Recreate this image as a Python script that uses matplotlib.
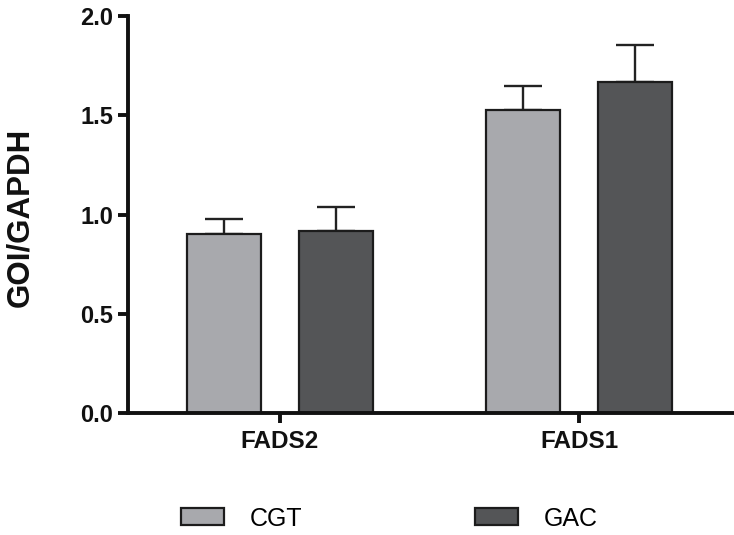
import matplotlib
matplotlib.use("Agg")
import matplotlib.pyplot as plt
import numpy as np

categories = ["FADS2", "FADS1"]
series = ["CGT", "GAC"]
means = {"CGT": [0.90, 1.525], "GAC": [0.917, 1.666]}
errors = {"CGT": [0.078, 0.122], "GAC": [0.12, 0.186]}
colors = {"CGT": "#a8a9ad", "GAC": "#545557"}
yticks = [0.0, 0.5, 1.0, 1.5, 2.0]
ytick_labels = ["0.0", "0.5", "1.0", "1.5", "2.0"]

plt.rcParams['font.family'] = ['Liberation Sans', 'DejaVu Sans']

W, H = 734, 535
fig = plt.figure(figsize=(W/100, H/100), dpi=100)
ax = fig.add_axes([128/W, 1-413/H, (733-128)/W, (413-16)/H])

x = np.arange(len(categories))
width = 0.247
offsets = {"CGT": -0.187, "GAC": 0.187}
handles = []
for s in series:
    b = ax.bar(x + offsets[s], means[s], width=width, color=colors[s],
               edgecolor="#1c1c1c", linewidth=1.6, label=s, zorder=2)
    handles.append(b)
    ax.errorbar(x + offsets[s], means[s],
                yerr=[np.zeros(len(categories)), errors[s]],
                fmt="none", ecolor="#222222", elinewidth=1.7,
                capsize=13.5, capthick=1.7, zorder=1)

ax.set_xlim(-0.508, 1.515)
ax.set_ylim(0, 2.0)
ax.set_yticks(yticks)
ax.set_yticklabels(ytick_labels)
ax.set_xticks(x)
ax.set_xticklabels(categories)

for sp in ["top", "right"]:
    ax.spines[sp].set_visible(False)
for sp in ["left", "bottom"]:
    ax.spines[sp].set_linewidth(2.8)
    ax.spines[sp].set_color("#111111")

ax.tick_params(axis="y", length=7, width=2.8, pad=3.5, labelsize=17, color="#111111")
ax.tick_params(axis="x", length=7, width=2.8, pad=5, labelsize=17.5, color="#111111")
for lab in ax.get_yticklabels() + ax.get_xticklabels():
    lab.set_fontweight("bold")
    lab.set_color("#111111")

fig.text(20/W, 1-217/H, "GOI/GAPDH", rotation=90, ha="center", va="center",
         fontsize=22.5, fontweight="bold", color="#111111")

leg = fig.legend(handles, series, loc="center left",
                 bbox_to_anchor=(180.7/W, 16.5/H), ncol=2, frameon=False,
                 fontsize=18, handlelength=1.75, handleheight=0.64,
                 handletextpad=1.0, columnspacing=6.9, borderpad=0,
                 borderaxespad=0)
for p in leg.get_patches():
    p.set_linewidth(1.6)

fig.savefig("out.png", dpi=100)
